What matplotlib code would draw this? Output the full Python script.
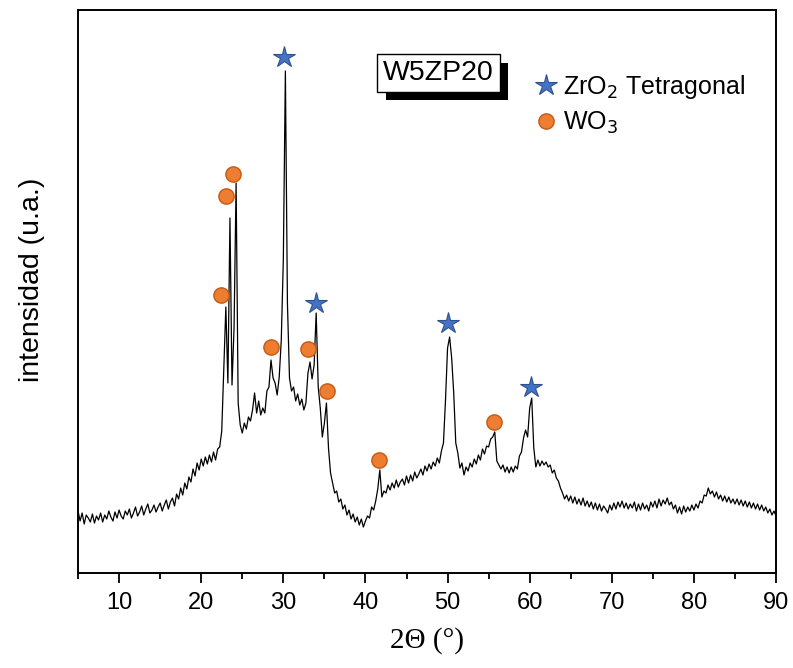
import numpy as np
import matplotlib
matplotlib.use("Agg")
import matplotlib.pyplot as plt
from matplotlib.lines import Line2D
from matplotlib.ticker import MultipleLocator
import matplotlib.patheffects as pe

plt.rcParams['font.family'] = ['Liberation Sans', 'DejaVu Sans']

# XRD scan, 0.25 deg step (intensity in arbitrary units)
two_theta = np.arange(5, 90.001, 0.25)
intensity = np.array([
    62, 52, 60, 49, 58, 55, 51, 59, 50, 57,          # 5.0 - 7.25
    53, 60, 51, 58, 54, 62, 56, 52, 61, 55,          # 7.5 - 9.75
    63, 57, 54, 62, 58, 64, 55, 60, 66, 57,          # 10.0 - 12.25
    61, 67, 58, 64, 69, 60, 63, 68, 61, 66,          # 12.5 - 14.75
    70, 62, 68, 73, 64, 71, 75, 67, 79, 74,          # 15.0 - 17.25
    85, 78, 90, 84, 96, 91, 104, 97, 110, 103,       # 17.5 - 19.75
    114, 107, 116, 109, 118, 111, 121, 113, 124, 126,  # 20.0 - 22.25
    142, 205, 266, 190, 355, 188, 245, 390, 170, 148,  # 22.5 - 24.75
    140, 150, 144, 156, 152, 163, 180, 160, 172, 158,  # 25.0 - 27.25
    165, 160, 182, 186, 213, 195, 190, 178, 196, 233,  # 27.5 - 29.75
    313, 502, 270, 195, 182, 186, 172, 179, 168, 174,  # 30.0 - 32.25
    163, 170, 200, 211, 194, 208, 260, 186, 165, 136,  # 32.5 - 34.75
    150, 170, 125, 100, 90, 80, 82, 71, 74, 64,      # 35.0 - 37.25
    68, 58, 63, 54, 59, 51, 56, 48, 54, 46,          # 37.5 - 39.75
    52, 57, 55, 66, 63, 72, 84, 103, 76, 82,         # 40.0 - 42.25
    80, 88, 83, 90, 85, 93, 86, 91, 94, 88,          # 42.5 - 44.75
    97, 90, 98, 92, 101, 95, 99, 104, 98, 107,       # 45.0 - 47.25
    102, 109, 104, 111, 107, 115, 110, 122, 130, 173,  # 47.5 - 49.75
    225, 236, 215, 180, 130, 120, 105, 110, 98, 106,   # 50.0 - 52.25
    102, 110, 106, 114, 109, 118, 113, 124, 119, 127,  # 52.5 - 54.75
    126, 134, 136, 141, 112, 108, 104, 108, 101, 106,  # 55.0 - 57.25
    100, 106, 101, 107, 104, 117, 121, 135, 143, 136,  # 57.5 - 59.75
    165, 175, 125, 106, 113, 107, 112, 108, 111, 106,  # 60.0 - 62.25
    108, 100, 103, 95, 92, 85, 80, 74, 78, 72,       # 62.5 - 64.75
    77, 70, 76, 69, 74, 68, 75, 67, 72, 66,          # 65.0 - 67.25
    71, 64, 70, 63, 69, 62, 67, 64, 60, 68,          # 67.5 - 69.75
    63, 70, 64, 71, 66, 72, 65, 70, 64, 69,          # 70.0 - 72.25
    65, 71, 62, 69, 63, 70, 64, 68, 62, 71,          # 72.5 - 74.75
    66, 72, 65, 74, 67, 73, 69, 75, 68, 71,          # 75.0 - 77.25
    64, 68, 60, 66, 59, 67, 61, 66, 62, 68,          # 77.5 - 79.75
    63, 69, 65, 72, 70, 78, 77, 85, 79, 82,          # 80.0 - 82.25
    76, 81, 74, 78, 72, 77, 71, 76, 70, 74,          # 82.5 - 84.75
    69, 74, 68, 73, 67, 72, 66, 71, 65, 70,          # 85.0 - 87.25
    64, 69, 63, 68, 62, 66, 60, 64, 58, 62,          # 87.5 - 89.75
    57,                                              # 90.0
])

# phase markers
zro2_pos = [30.09, 33.98, 50.06, 60.16]
zro2_int = [516, 270, 250, 186]
wo3_pos = [22.41, 23.02, 23.87, 28.5, 33.04, 35.28, 41.69, 55.66]
wo3_int = [278, 377, 399, 226, 224, 182, 113, 151]

sample_name = "W5ZP20"

fig = plt.figure(figsize=(7.93, 6.68), dpi=100)
ax = fig.add_axes([0.0984, 0.1422, 0.8802, 0.8428])

ax.plot(two_theta, intensity, color='black', linewidth=0.9, zorder=2)
ax.plot(zro2_pos, zro2_int, linestyle='none', marker='*', markersize=16,
        color='#4472C4', markeredgecolor='#2F528F', markeredgewidth=0.8, zorder=3)
ax.plot(wo3_pos, wo3_int, linestyle='none', marker='o', markersize=11,
        color='#ED7D31', markeredgecolor='#C55A11', markeredgewidth=1.0, zorder=3)

ax.set_xlim(5, 90)
ax.set_ylim(0, 563)
ax.xaxis.set_major_locator(MultipleLocator(10))
ax.xaxis.set_minor_locator(MultipleLocator(5))
ax.tick_params(axis='x', which='major', direction='out', length=7, width=1.3,
               labelsize=17, pad=7)
ax.tick_params(axis='x', which='minor', direction='out', length=4, width=1.3)
ax.set_yticks([])
for sp in ax.spines.values():
    sp.set_linewidth(1.4)

ax.set_xlabel('2Θ (°)', fontsize=21, family=['Liberation Serif', 'DejaVu Serif'])
ax.xaxis.set_label_coords(0.5, -0.096)
ax.set_ylabel('intensidad (u.a.)', fontsize=20.5)
ax.yaxis.set_label_coords(-0.047, 0.52)

# sample name box with drop shadow
label = ax.text(0.5165, 0.888, sample_name, transform=ax.transAxes, fontsize=20.5,
                ha='center', va='center', color='black',
                bbox=dict(boxstyle='square,pad=0.2', facecolor='white',
                          edgecolor='black', linewidth=1.0), zorder=5)
label.get_bbox_patch().set_path_effects([
    pe.SimplePatchShadow(offset=(6, -6), shadow_rgbFace='black', alpha=1.0),
    pe.Normal(),
])

handles = [
    Line2D([], [], linestyle='none', marker='*', markersize=16, color='#4472C4',
           markeredgecolor='#2F528F', markeredgewidth=0.8),
    Line2D([], [], linestyle='none', marker='o', markersize=11, color='#ED7D31',
           markeredgecolor='#C55A11', markeredgewidth=1.0),
]
ax.legend(handles, ['ZrO$_2$ Tetragonal', 'WO$_3$'], loc='upper left',
          bbox_to_anchor=(0.655, 0.888), frameon=False, fontsize=18,
          handlelength=0.9, handletextpad=0.2, labelspacing=0.35,
          borderpad=0, borderaxespad=0)

fig.savefig('out.png', dpi=100)
